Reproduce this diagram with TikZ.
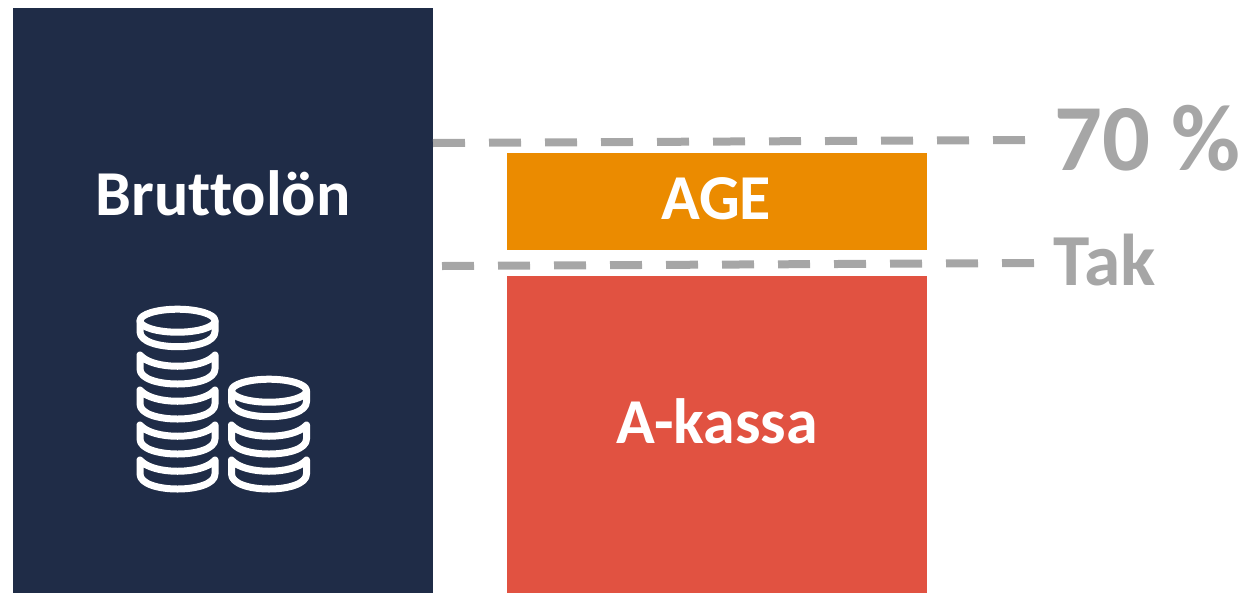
\documentclass[tikz,border=0pt]{standalone}
\usepackage{fontspec}
\setmainfont{Carlito}[Ligatures=CommonOff]
\definecolor{navy}{HTML}{1F2C47}
\definecolor{ageorange}{HTML}{EB8B00}
\definecolor{kassared}{HTML}{E15241}
\definecolor{dashgray}{HTML}{A6A6A6}
\tikzset{
  block/.style={inner sep=0pt, outer sep=0pt, minimum width=315pt},
  boxlabel/.style={text=white, anchor=base, inner sep=0pt, font=\fontsize{48}{48}\selectfont\bfseries},
  marklabel/.style={text=dashgray, anchor=base west, inner sep=0pt, font=\fontsize{#1}{#1}\selectfont\bfseries},
  level/.style={draw=dashgray, line width=6pt, dash pattern=on 24pt off 18pt},
  coin/.style={draw=white, line width=5.25pt, line cap=round, line join=round}
}
% one coin seen under another, and the whole coin on top of a stack
\newcommand{\lowercoin}[2]{
  \draw[coin] (#1-37.5,#2) .. controls (#1-25,#2+15) and (#1+25,#2+15) .. (#1+37.5,#2)
    -- (#1+37.5,#2+14) .. controls (#1+37.5,#2+34) and (#1-37.5,#2+34) .. (#1-37.5,#2+14) -- cycle;
}
\newcommand{\topcoin}[2]{
  \draw[coin] (#1,#2) ellipse [x radius=37.5, y radius=11.5];
  \draw[coin] (#1-37.5,#2) -- (#1-37.5,#2+11) .. controls (#1-37.5,#2+31) and (#1+37.5,#2+31) .. (#1+37.5,#2+11) -- (#1+37.5,#2);
}
\begin{document}
\begin{tikzpicture}[x=0.75pt, y=-0.75pt]
\useasboundingbox (0,0) rectangle (1252,593);
\node[block, fill=navy, minimum height=438.75pt] (brutto) at (223,300.5) {};
\node[block, fill=ageorange, minimum height=72.75pt] (age) at (717,201.5) {};
\node[block, fill=kassared, minimum height=237.75pt] (kassa) at (717,434.5) {};
\node[boxlabel] (bruttotext) at (223,215) {Bruttolön};
\node[boxlabel] (agetext) at (716,219) {AGE};
\node[boxlabel] (kassatext) at (717,443) {A-kassa};
\node[marklabel=71] (seventy) at (1054,170) {70 \%};
\node[marklabel=55] (tak) at (1053,285) {Tak};
\coordinate (seventyleft) at (433,143);
\coordinate (seventyright) at (1026,140);
\coordinate (takleft) at (442,266);
\coordinate (takright) at (1034,263);
\draw[level] (seventyleft) -- (seventyright);
\draw[level] (takleft) -- (takright);
% coins
\topcoin{177.5}{320.7}
\foreach \y in {355,390,425,460} {\lowercoin{177.5}{\y}}
\topcoin{269}{390.7}
\foreach \y in {425,460} {\lowercoin{269}{\y}}
\end{tikzpicture}
\end{document}
